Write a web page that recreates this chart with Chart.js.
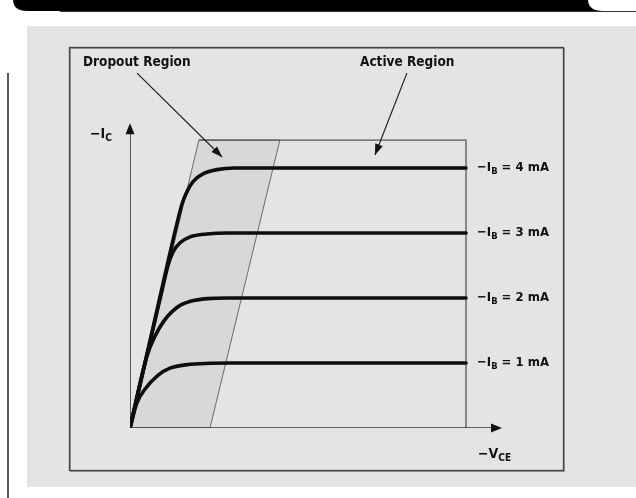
<!DOCTYPE html>
<html>
<head>
<meta charset="utf-8">
<script src="https://cdn.jsdelivr.net/npm/chart.js@4.4.1/dist/chart.umd.min.js"></script>
<style>
  html, body { margin: 0; padding: 0; background: #fff; }
  #wrap { width: 636px; height: 498px; }
</style>
</head>
<body>
<div id="wrap"><canvas id="chart" width="636" height="498"></canvas></div>
<script>
// base currents (mA) for each curve
const baseCurrents = [4, 3, 2, 1];

// curve points: -Vce (x) and -Ic (y)
const curve4 = [[0, 0], [0.7, 1.58], [1.4, 3.15], [1.55, 3.45], [1.7, 3.64], [1.875, 3.79], [2.17, 3.91], [2.59, 3.975], [3.1, 4.0], [10, 4.0]];
const curve3 = [[0, 0], [0.95, 2.11], [1.13, 2.5], [1.28, 2.71], [1.49, 2.85], [1.79, 2.94], [2.29, 2.985], [2.9, 3.0], [10, 3.0]];
const curve2 = [[0, 0], [0.5, 1.1], [0.75, 1.42], [1.0, 1.64], [1.25, 1.79], [1.5, 1.89], [1.8, 1.95], [2.3, 1.99], [2.9, 2.0], [10, 2.0]];
const curve1 = [[0, 0], [0.2, 0.38], [0.45, 0.6], [0.83, 0.81], [1.19, 0.92], [1.7, 0.975], [2.4, 0.995], [3.0, 1.0], [10, 1.0]];
const curves = [curve4, curve3, curve2, curve1];

// dropout region (shaded) and active region outline
const dropout = [[0, 0], [2.38, 0], [4.46, 4.43], [2.05, 4.43], [0, 0]];
const active = [[2.05, 4.43], [10, 4.43], [10, 0]];

// axes ends
const xAxisEnd = 11.07;
const yAxisEnd = 4.69;

// callout arrows [from, to]
const callouts = [
  { text: "Dropout Region", textX: 83, from: [0.21, 5.46], to: [2.74, 4.17] },
  { text: "Active Region", textX: 360, from: [8.24, 5.46], to: [7.29, 4.2] }
];

const pts = a => a.map(p => ({ x: p[0], y: p[1] }));
const FONT = '"Liberation Sans Narrow", "DejaVu Sans Condensed", "Liberation Sans", Arial, sans-serif';

function drawSub(ctx, parts, x, y, size) {
  // parts: [text, isSub]
  let cx = x;
  parts.forEach(([t, sub]) => {
    ctx.font = "bold " + (sub ? size * 0.72 : size) + "px " + FONT;
    ctx.fillText(t, cx, sub ? y + size * 0.28 : y);
    cx += ctx.measureText(t).width;
  });
}

function arrowHead(ctx, x1, y1, x2, y2, len, wid) {
  const a = Math.atan2(y2 - y1, x2 - x1);
  ctx.beginPath();
  ctx.moveTo(x2, y2);
  ctx.lineTo(x2 - len * Math.cos(a) + wid / 2 * Math.sin(a), y2 - len * Math.sin(a) - wid / 2 * Math.cos(a));
  ctx.lineTo(x2 - len * Math.cos(a) - wid / 2 * Math.sin(a), y2 - len * Math.sin(a) + wid / 2 * Math.cos(a));
  ctx.closePath();
  ctx.fill();
}

const backdrop = {
  id: "backdrop",
  beforeDraw(chart) {
    const ctx = chart.ctx;
    ctx.save();
    ctx.fillStyle = "#fff";
    ctx.fillRect(0, 0, 636, 498);
    // header band
    ctx.fillStyle = "#000";
    ctx.beginPath();
    ctx.moveTo(13, -1);
    ctx.lineTo(636, -1);
    ctx.lineTo(636, 11);
    ctx.lineTo(27, 11);
    ctx.quadraticCurveTo(13, 11, 13, -1);
    ctx.fill();
    ctx.fillStyle = "#fff";
    ctx.beginPath();
    ctx.moveTo(588, -1);
    ctx.lineTo(636, -1);
    ctx.lineTo(636, 11);
    ctx.lineTo(603, 11);
    ctx.quadraticCurveTo(588, 11, 588, -1);
    ctx.fill();
    ctx.strokeStyle = "#333";
    ctx.lineWidth = 1;
    ctx.beginPath();
    ctx.moveTo(60, 11.5);
    ctx.lineTo(636, 11.5);
    ctx.stroke();
    // left rule
    ctx.lineWidth = 1.5;
    ctx.strokeStyle = "#222";
    ctx.beginPath();
    ctx.moveTo(8, 73);
    ctx.lineTo(8, 498);
    ctx.stroke();
    // panel
    ctx.fillStyle = "#e4e4e4";
    ctx.fillRect(27, 26, 609, 461);
    ctx.strokeStyle = "#9a9a9a";
    ctx.lineWidth = 1;
    ctx.strokeRect(70.5, 48.5, 494, 423);
    ctx.strokeStyle = "#444";
    ctx.lineWidth = 1.3;
    ctx.strokeRect(69.5, 47.5, 494, 423);
    ctx.restore();
  },
  afterDraw(chart) {
    const ctx = chart.ctx;
    const xs = chart.scales.x, ys = chart.scales.y;
    ctx.save();
    ctx.fillStyle = "#111";
    ctx.strokeStyle = "#222";
    // axis arrowheads
    arrowHead(ctx, xs.getPixelForValue(0), ys.getPixelForValue(0), xs.getPixelForValue(xAxisEnd), ys.getPixelForValue(0), 11, 9);
    arrowHead(ctx, xs.getPixelForValue(0), ys.getPixelForValue(0), xs.getPixelForValue(0), ys.getPixelForValue(yAxisEnd), 11, 9);
    // callouts
    ctx.textBaseline = "middle";
    callouts.forEach(c => {
      ctx.font = "bold 13.5px " + FONT;
      ctx.fillText(c.text, c.textX, 62);
      const x1 = xs.getPixelForValue(c.from[0]), y1 = ys.getPixelForValue(c.from[1]);
      const x2 = xs.getPixelForValue(c.to[0]), y2 = ys.getPixelForValue(c.to[1]);
      ctx.lineWidth = 1.2;
      ctx.beginPath();
      ctx.moveTo(x1, y1);
      ctx.lineTo(x2, y2);
      ctx.stroke();
      arrowHead(ctx, x1, y1, x2, y2, 11, 8);
    });
    // axis labels
    drawSub(ctx, [["\u2212I", false], ["C", true]], 90, 134, 14);
    drawSub(ctx, [["\u2212V", false], ["CE", true]], 478, 454, 14);
    // curve labels
    curves.forEach((c, i) => {
      const last = c[c.length - 1];
      const y = ys.getPixelForValue(last[1]);
      drawSub(ctx, [["\u2212I", false], ["B", true], [" = " + baseCurrents[i] + " mA", false]], 477, y, 13);
    });
    ctx.restore();
  }
};

// lower "order" draws on top
const datasets = [
  {
    data: pts(dropout), showLine: true, fill: "shape", order: 5,
    backgroundColor: "#d8d8d8", borderColor: "#6a6a6a", borderWidth: 1, pointRadius: 0
  },
  {
    data: pts(active), showLine: true, fill: false, order: 4,
    borderColor: "#555", borderWidth: 1.3, pointRadius: 0
  },
  {
    data: pts([[0, 0], [xAxisEnd - 0.2, 0]]), showLine: true, fill: false, order: 3,
    borderColor: "#333", borderWidth: 1.6, pointRadius: 0
  },
  {
    data: pts([[0, 0], [0, yAxisEnd - 0.1]]), showLine: true, fill: false, order: 3,
    borderColor: "#333", borderWidth: 1.6, pointRadius: 0
  }
].concat(curves.map(c => ({
  data: pts(c), showLine: true, fill: false, cubicInterpolationMode: "monotone", order: 0,
  borderColor: "#0d0d0d", borderWidth: 3.6, pointRadius: 0, borderCapStyle: "round"
})));

new Chart(document.getElementById("chart"), {
  type: "scatter",
  data: { datasets },
  options: {
    responsive: false,
    animation: false,
    layout: { padding: { left: 130, top: 122.5, right: 133, bottom: 70 } },
    plugins: { legend: { display: false }, tooltip: { enabled: false } },
    scales: {
      x: { type: "linear", min: 0, max: 11.1, display: false },
      y: { type: "linear", min: 0, max: 4.7, display: false }
    }
  },
  plugins: [backdrop]
});
</script>
</body>
</html>
